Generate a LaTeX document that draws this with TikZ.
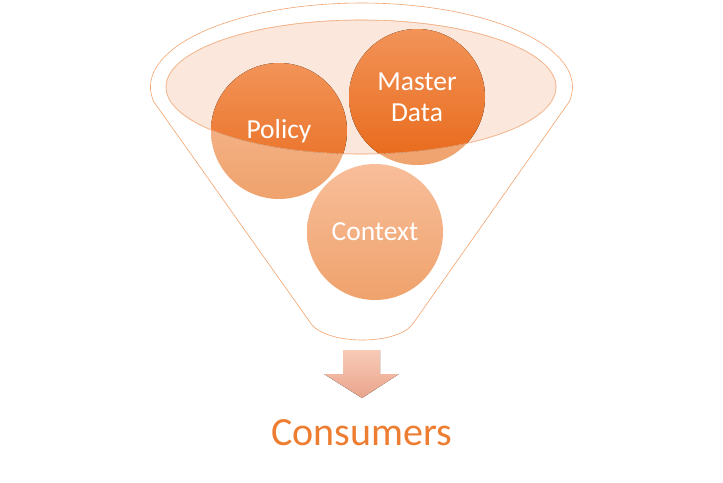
\documentclass[tikz,border=0pt]{standalone}
\usepackage{fontspec}
\setmainfont{Carlito}
\usepackage{tikz}
\usetikzlibrary{positioning, calc}
\usepackage{xcolor}
\definecolor{fnlorange}{HTML}{ED7D31}
\definecolor{fnlline}{HTML}{F2A36F}
\definecolor{fnlpeach}{HTML}{FBE7DC}
\definecolor{fnllighttop}{HTML}{F8BE9A}
\definecolor{fnllightbot}{HTML}{EFA26C}
\definecolor{fnldarktop}{HTML}{F29358}
\definecolor{fnldarkbot}{HTML}{E8691A}
\definecolor{fnlarrowtop}{HTML}{F8CBB7}
\definecolor{fnlarrowbot}{HTML}{E9A48C}

\begin{document}
\begin{tikzpicture}[
    x=1pt, y=-1pt,
    funnel/.style={
        draw=fnlline,
        line width=0.6pt
    },
    bubble/.style={
        circle,
        minimum size=136pt,
        inner sep=0pt,
        top color=fnllighttop,
        bottom color=fnllightbot,
        text=white,
        align=center,
        font=\fontsize{27.5}{31}\selectfont
    },
    core/.style={
        top color=fnldarktop,
        bottom color=fnldarkbot
    },
    label/.style={
        text=fnlorange,
        font=\fontsize{40}{44}\selectfont
    }
]
\useasboundingbox (0,0) rectangle (723,482);

% Funnel body
\draw[funnel] (153.7,101.6) arc[start angle=170, end angle=370, x radius=211, y radius=84]
    -- (412,325) .. controls (395,345) and (330,345) .. (312,325) -- cycle;

% Mouth of the funnel
\draw[funnel, fill=fnlpeach] (361,87) ellipse[x radius=195, y radius=67];

% Bubbles
\node[bubble] (policy) at (279,131) {};
\node[bubble] (master) at (417,97) {};
\node[bubble] (context) at (375,232) {Context};

% Parts inside the mouth
\begin{scope}
    \clip (361,87) ellipse[x radius=195, y radius=67];
    \fill[core] (policy.center) circle[radius=68pt];
    \fill[core] (master.center) circle[radius=68pt];
\end{scope}
\draw[funnel, line width=0.4pt, draw=fnlline!70] (361,87) ellipse[x radius=195, y radius=67];

\node[text=white, font=\fontsize{27.5}{31}\selectfont] at (policy.center) {Policy};
\node[text=white, align=center, font=\fontsize{27.5}{31}\selectfont] at (master.center) {Master\\Data};

% Output arrow
\coordinate (tip) at (362,398);
\fill[top color=fnlarrowtop, bottom color=fnlarrowbot]
    (343,350) -- (380,350) -- (380,374) -- (399,374) -- (tip) -- (324,374) -- (343,374) -- cycle;

\node[label, anchor=base] (consumers) at (362,445) {Consumers};

\end{tikzpicture}
\end{document}
